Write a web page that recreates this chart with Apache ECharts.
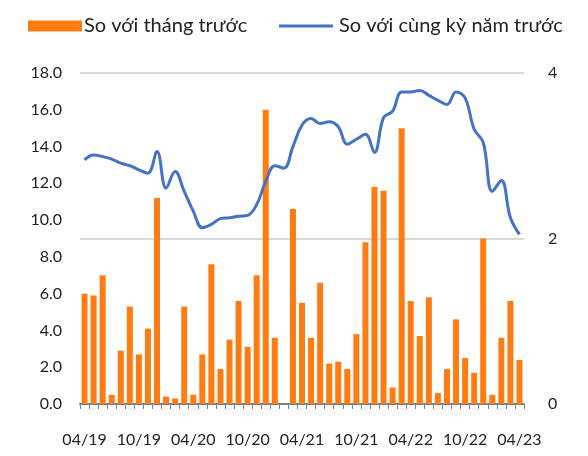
<!DOCTYPE html>
<html>
<head>
<meta charset="utf-8">
<script src="https://cdn.jsdelivr.net/npm/echarts@6/dist/echarts.min.js"></script>
<style>
html,body{margin:0;padding:0;background:#fff;}
#c{width:588px;height:456px;}
</style>
</head>
<body>
<div id="c"></div>
<script>
var months = ['04/19','05/19','06/19','07/19','08/19','09/19','10/19','11/19','12/19','01/20','02/20','03/20',
  '04/20','05/20','06/20','07/20','08/20','09/20','10/20','11/20','12/20','01/21','02/21','03/21',
  '04/21','05/21','06/21','07/21','08/21','09/21','10/21','11/21','12/21','01/22','02/22','03/22',
  '04/22','05/22','06/22','07/22','08/22','09/22','10/22','11/22','12/22','01/23','02/23','03/23','04/23'];
var momValues = [6.0,5.9,7.0,0.5,2.9,5.3,2.7,4.1,11.2,0.4,0.3,5.3,
  0.5,2.7,7.6,1.9,3.5,5.6,3.1,7.0,16.0,3.6,-0.3,10.6,
  5.5,3.6,6.6,2.2,2.3,1.9,3.8,8.8,11.8,11.6,0.9,15.0,
  5.6,3.7,5.8,0.6,1.9,4.6,2.5,1.7,9.0,0.5,3.6,5.6,2.4];
var yoyValues = [2.95,3.01,2.99,2.96,2.91,2.88,2.83,2.79,3.05,2.61,2.81,2.57,
  2.33,2.13,2.17,2.24,2.25,2.27,2.28,2.41,2.69,2.88,2.85,3.11,
  3.37,3.45,3.39,3.41,3.35,3.14,3.20,3.26,3.04,3.46,3.54,3.77,
  3.77,3.79,3.73,3.67,3.62,3.77,3.70,3.32,3.16,2.57,2.70,2.25,2.05];
var seriesNames = ['So với tháng trước','So với cùng kỳ năm trước'];

var chart = echarts.init(document.getElementById('c'));
var font = 'Lato';
var legendText = {fontSize:20, color:'#222', fontFamily:font};
chart.setOption({
  animation:false,
  backgroundColor:'#fff',
  textStyle:{fontFamily:font},
  legend:[{
    left:23, top:11, itemWidth:54, itemHeight:11,
    textStyle:Object.assign({padding:[0,0,0,-3]}, legendText),
    data:[{name:seriesNames[0], icon:'rect'}]
  },{
    left:274, top:11, itemWidth:54, itemHeight:3,
    textStyle:Object.assign({padding:[0,0,0,1]}, legendText),
    data:[{name:seriesNames[1], icon:'rect'}]
  }],
  grid:{left:80, right:64, top:73, bottom:52},
  xAxis:{
    type:'category', data:months, boundaryGap:true,
    axisLine:{lineStyle:{color:'#7f7f7f', width:2}},
    axisTick:{show:true, interval:0, length:5, lineStyle:{color:'#7f7f7f', width:1}},
    axisLabel:{interval:5, margin:28, fontSize:16, color:'#222', fontFamily:font}
  },
  yAxis:[{
    type:'value', min:0, max:18, interval:2,
    axisLine:{show:false}, axisTick:{show:false}, splitLine:{show:false},
    axisLabel:{margin:18, fontSize:16, color:'#222', fontFamily:font,
      formatter:function(v){return v.toFixed(1);}}
  },{
    type:'value', min:0, max:4, interval:2, position:'right',
    axisLine:{show:false}, axisTick:{show:false},
    splitLine:{show:true, lineStyle:{color:'#d9d9d9', width:2}},
    axisLabel:{margin:24, fontSize:16, color:'#222', fontFamily:font}
  }],
  series:[{
    name:seriesNames[0], type:'bar', data:momValues, yAxisIndex:0,
    barWidth:6, itemStyle:{color:'#FF7C12'}
  },{
    name:seriesNames[1], type:'line', data:yoyValues, yAxisIndex:1,
    smooth:0.4, symbol:'none', z:5,
    lineStyle:{color:'#4472C4', width:3}, itemStyle:{color:'#4472C4'}
  }]
});
</script>
</body>
</html>
